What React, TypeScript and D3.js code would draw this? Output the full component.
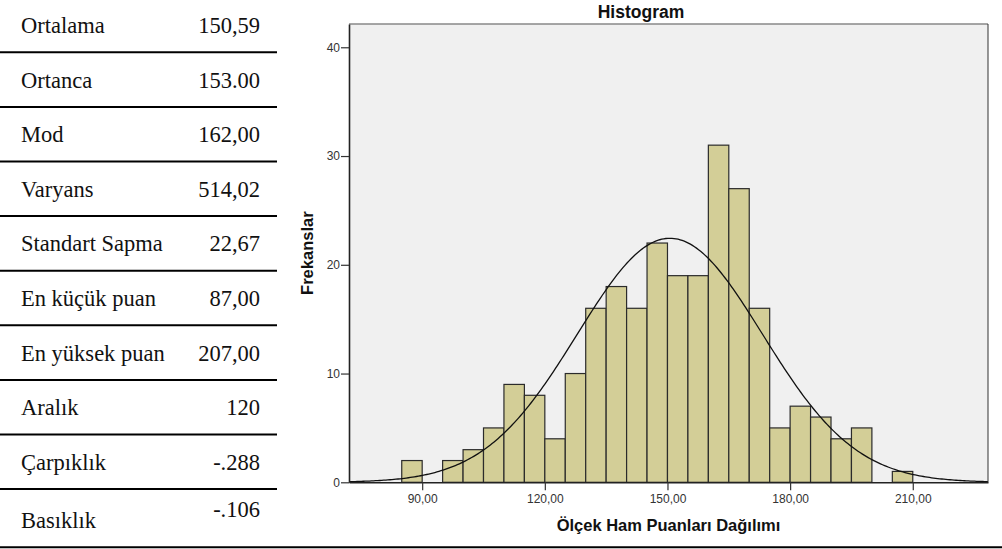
import * as d3 from "d3"
import React, { useEffect, useRef } from "react"

// summary table
const statLabels = [
  "Ortalama",
  "Ortanca",
  "Mod",
  "Varyans",
  "Standart Sapma",
  "En küçük puan",
  "En yüksek puan",
  "Aralık",
  "Çarpıklık",
  "Basıklık",
]
const statValues = ["150,59", "153.00", "162,00", "514,02", "22,67", "87,00", "207,00", "120", "-.288", "-.106"]

// histogram bins (width 5)
const binStarts = [
  85, 90, 95, 100, 105, 110, 115, 120, 125, 130, 135, 140, 145, 150, 155, 160, 165, 170, 175, 180, 185, 190, 195,
  200, 205,
]
const counts = [2, 0, 2, 3, 5, 9, 8, 4, 10, 16, 18, 16, 22, 19, 19, 31, 27, 16, 5, 7, 6, 4, 5, 0, 1]
const binWidth = 5

// normal curve
const mean = 150.59
const sd = 22.67
const curveN = 255

const xTicks = [90, 120, 150, 180, 210]
const yTicks = [0, 10, 20, 30, 40]

const W = 1002
const H = 549
const sans = "'Liberation Sans', Arial, sans-serif"
const serif = "'Liberation Serif', 'Times New Roman', serif"

const App = () => {
  const ref = useRef(null)

  useEffect(() => {
    const svg = d3.select(ref.current)
    svg.selectAll("*").remove()

    // ---- table ----
    const table = svg.append("g")
    const rowH = 54.6
    statLabels.forEach((lab, i) => {
      const last = i === statLabels.length - 1
      table
        .append("text")
        .attr("x", 21)
        .attr("y", last ? 528 : 33 + rowH * i)
        .attr("font-family", serif)
        .attr("font-size", 22.5)
        .attr("fill", "#111")
        .text(lab)
      table
        .append("text")
        .attr("x", 260)
        .attr("y", last ? 517 : 33 + rowH * i)
        .attr("text-anchor", "end")
        .attr("font-family", serif)
        .attr("font-size", 22.5)
        .attr("fill", "#111")
        .text(statValues[i])
      if (!last) {
        table
          .append("line")
          .attr("x1", 0)
          .attr("x2", 277)
          .attr("y1", 52.3 + rowH * i)
          .attr("y2", 52.3 + rowH * i)
          .attr("stroke", "#000")
          .attr("stroke-width", 2)
      }
    })
    svg
      .append("line")
      .attr("x1", 0)
      .attr("x2", W)
      .attr("y1", 547.3)
      .attr("y2", 547.3)
      .attr("stroke", "#000")
      .attr("stroke-width", 2)

    // ---- histogram ----
    const left = 349,
      right = 988,
      top = 24,
      bottom = 482.3

    const x = d3.scaleLinear().domain([72.1, 228.4]).range([left, right])
    const y = d3.scaleLinear().domain([0, 42.14]).range([bottom, top])

    svg
      .append("rect")
      .attr("x", left)
      .attr("y", top)
      .attr("width", right - left)
      .attr("height", bottom - top)
      .attr("fill", "#f0f0f0")

    const bins = binStarts.map((s, i) => ({ s, c: counts[i] })).filter((b) => b.c > 0)
    svg
      .append("g")
      .selectAll("rect")
      .data(bins)
      .join("rect")
      .attr("x", (d) => x(d.s))
      .attr("y", (d) => y(d.c))
      .attr("width", (d) => x(d.s + binWidth) - x(d.s))
      .attr("height", (d) => y(0) - y(d.c))
      .attr("fill", "#d3ce97")
      .attr("stroke", "#2b2b2b")
      .attr("stroke-width", 1.2)

    const pts = d3.range(72.1, 228.4, 0.5).concat([228.4])
    const pdf = (v) => ((curveN * binWidth) / (sd * Math.sqrt(2 * Math.PI))) * Math.exp(-0.5 * ((v - mean) / sd) ** 2)
    svg
      .append("path")
      .datum(pts)
      .attr("fill", "none")
      .attr("stroke", "#111")
      .attr("stroke-width", 1.3)
      .attr(
        "d",
        d3
          .line()
          .x((v) => x(v))
          .y((v) => y(pdf(v)))
      )

    // frame lines
    svg
      .append("line")
      .attr("x1", left)
      .attr("x2", right)
      .attr("y1", top)
      .attr("y2", top)
      .attr("stroke", "#888")
      .attr("stroke-width", 1.5)
    svg
      .append("line")
      .attr("x1", right)
      .attr("x2", right)
      .attr("y1", top)
      .attr("y2", bottom)
      .attr("stroke", "#333")
      .attr("stroke-width", 1)

    // axes
    const yAxis = svg
      .append("g")
      .attr("transform", `translate(${left},0)`)
      .call(d3.axisLeft(y).tickValues(yTicks).tickSize(8).tickPadding(1).tickSizeOuter(0))
    const xAxis = svg
      .append("g")
      .attr("transform", `translate(0,${bottom})`)
      .call(
        d3
          .axisBottom(x)
          .tickValues(xTicks)
          .tickSize(8)
          .tickPadding(4)
          .tickSizeOuter(0)
          .tickFormat((v) => d3.format(".2f")(v).replace(".", ","))
      )
    ;[yAxis, xAxis].forEach((a) => {
      a.select(".domain").attr("stroke", "#222").attr("stroke-width", 1.6)
      a.selectAll(".tick line").attr("stroke", "#333").attr("stroke-width", 1.2)
      a.selectAll(".tick text").attr("font-family", sans).attr("font-size", 12).attr("fill", "#333")
    })

    // titles
    svg
      .append("text")
      .attr("x", 641)
      .attr("y", 18)
      .attr("text-anchor", "middle")
      .attr("font-family", sans)
      .attr("font-weight", "bold")
      .attr("font-size", 17.5)
      .attr("fill", "#111")
      .text("Histogram")
    svg
      .append("text")
      .attr("x", (left + right) / 2)
      .attr("y", 531)
      .attr("text-anchor", "middle")
      .attr("font-family", sans)
      .attr("font-weight", "bold")
      .attr("font-size", 16.5)
      .attr("fill", "#111")
      .text("Ölçek Ham Puanları Dağılımı")
    svg
      .append("text")
      .attr("transform", `translate(313,${(top + bottom) / 2}) rotate(-90)`)
      .attr("text-anchor", "middle")
      .attr("font-family", sans)
      .attr("font-weight", "bold")
      .attr("font-size", 16.5)
      .attr("fill", "#111")
      .text("Frekanslar")
  }, [])

  return (
    <svg
      ref={ref}
      width={W}
      height={H}
      viewBox={`0 0 ${W} ${H}`}
      style={{ position: "absolute", left: 0, top: 0, background: "#fff" }}
    />
  )
}

export default App
